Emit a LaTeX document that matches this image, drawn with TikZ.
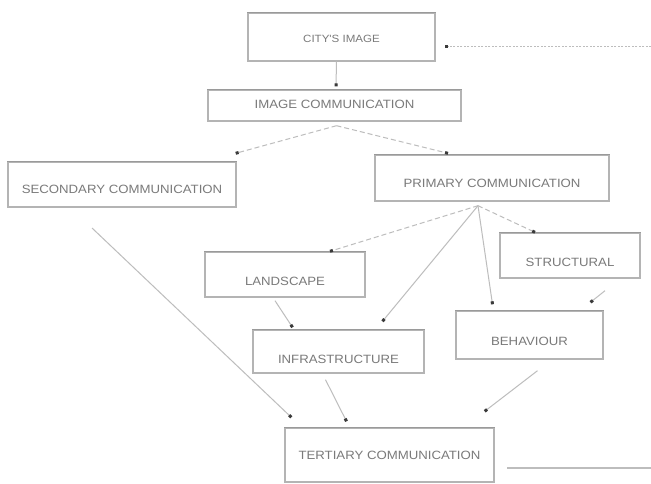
\documentclass[tikz,border=0pt]{standalone}
\usepackage{fontspec}
\setmainfont{Liberation Sans}
\newfontfamily\boxfont[FakeStretch=1.1]{Liberation Sans}
\usetikzlibrary{arrows.meta,calc}
\definecolor{boxline}{HTML}{B4B4B4}
\definecolor{boxtop}{HTML}{9A9A9A}
\definecolor{txt}{HTML}{7A7A7A}
\definecolor{conn}{HTML}{BDBDBD}
\definecolor{tipc}{HTML}{3A3A3A}
\tikzset{
  box/.style={draw=boxline, line width=1.4pt, fill=white, inner sep=0pt},
  lbl/.style={text=txt, font=\boxfont\fontsize{12}{14}\selectfont, inner sep=0pt},
  smalllbl/.style={lbl, font=\boxfont\fontsize{10.5}{12}\selectfont},
  conn/.style={draw=conn, line width=1pt,
    -{Square[length=3pt,width=3pt,color=tipc]}},
  dconn/.style={conn, dash pattern=on 5pt off 3pt},
}
\begin{document}
\begin{tikzpicture}[x=1pt,y=-1pt]
\useasboundingbox[fill=white] (0,0) rectangle (651,484);
% boxes
\node[box, minimum width=187pt, minimum height=48pt,
  label={[smalllbl,yshift=-2pt]center:CITY'S IMAGE}] (city) at (341.5,37) {};
\node[box, minimum width=253pt, minimum height=31pt,
  label={[lbl,yshift=1pt]center:IMAGE COMMUNICATION}] (imgc) at (334.5,105.5) {};
\node[box, minimum width=228pt, minimum height=45pt,
  label={[lbl,yshift=-5pt]center:SECONDARY COMMUNICATION}] (sec) at (122,184.5) {};
\node[box, minimum width=234pt, minimum height=46pt,
  label={[lbl,yshift=-5pt]center:PRIMARY COMMUNICATION}] (prim) at (492,178) {};
\node[box, minimum width=140pt, minimum height=45pt,
  label={[lbl,yshift=-7pt]center:STRUCTURAL}] (struc) at (570,255.5) {};
\node[box, minimum width=160pt, minimum height=45pt,
  label={[lbl,yshift=-7pt]center:LANDSCAPE}] (land) at (285,274.5) {};
\node[box, minimum width=171pt, minimum height=43pt,
  label={[lbl,yshift=-8pt]center:INFRASTRUCTURE}] (infra) at (338.5,351.5) {};
\node[box, minimum width=147pt, minimum height=48pt,
  label={[lbl,yshift=-6pt]center:BEHAVIOUR}] (behav) at (529.5,335) {};
\node[box, minimum width=209pt, minimum height=54pt,
  label={[lbl]center:TERTIARY COMMUNICATION}] (tert) at (389.5,455) {};
% darker top edges
\foreach \n in {city,imgc,sec,prim,struc,land,infra,behav,tert}{
  \draw[boxtop, line width=1.4pt] (\n.north west) -- (\n.north east);
}
% free coordinates
\coordinate (inR) at (651,47);
\coordinate (inT) at (445,47);
\coordinate (sfree) at (92,228);
\coordinate (outA) at (507,468);
\coordinate (outB) at (651,468);
% connectors
\draw[conn] ([xshift=-5pt]city.south) -- ([xshift=1.5pt,yshift=3pt]imgc.north);
\draw[dconn] ([xshift=2pt,yshift=-4pt]imgc.south) -- ([xshift=-1pt,yshift=8pt]sec.north east);
\draw[dconn] ([xshift=2pt,yshift=-4pt]imgc.south) -- ([xshift=-44pt,yshift=1pt]prim.north);
\draw[dconn] ([xshift=-14pt,yshift=-4pt]prim.south) -- ([xshift=45pt,yshift=0pt]land.north);
\draw[conn] ([xshift=-14pt,yshift=-4pt]prim.south) -- ([xshift=44pt,yshift=8pt]infra.north);
\draw[conn] ([xshift=-14pt,yshift=-4pt]prim.south) -- ([xshift=-37pt,yshift=6pt]behav.north);
\draw[dconn] ([xshift=-14pt,yshift=-4pt]prim.south) -- ([xshift=-35pt,yshift=0pt]struc.north);
\draw[conn] ([xshift=-10pt,yshift=-3pt]land.south) -- ([xshift=-46pt,yshift=2pt]infra.north);
\draw[conn] ([xshift=35pt,yshift=-12pt]struc.south) -- ([xshift=61pt,yshift=8pt]behav.north);
\draw[conn] (sfree) -- ([xshift=7pt,yshift=10pt]tert.north west);
\draw[conn] ([xshift=-13pt,yshift=-6pt]infra.south) -- ([xshift=-43pt,yshift=6pt]tert.north);
\draw[conn] ([xshift=8pt,yshift=-11pt]behav.south) -- ([xshift=-10pt,yshift=16pt]tert.north east);
\draw[draw=conn, line width=1pt, dash pattern=on 2pt off 1.5pt,
  -{Square[length=3pt,width=3pt,color=tipc]}] (inR) -- (inT);
\draw[draw=conn, line width=1.2pt] (outA) -- (outB);
\end{tikzpicture}
\end{document}
